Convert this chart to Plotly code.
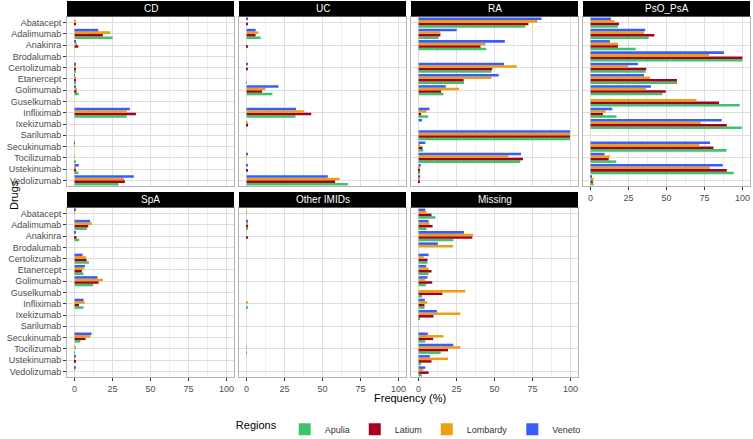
import plotly.graph_objects as go
from plotly.subplots import make_subplots

drugs = [
    "Abatacept", "Adalimumab", "Anakinra", "Brodalumab", "Certolizumab",
    "Etanercept", "Golimumab", "Guselkumab", "Infliximab", "Ixekizumab",
    "Sarilumab", "Secukinumab", "Tocilizumab", "Ustekinumab", "Vedolizumab",
]
regions = ["Apulia", "Latium", "Lombardy", "Veneto"]
colors = {"Apulia": "#3CC46D", "Latium": "#A6001F", "Lombardy": "#EE9F0E", "Veneto": "#3A5CFF"}
panels = ["CD", "UC", "RA", "PsO_PsA", "SpA", "Other IMIDs", "Missing"]

# frequency (%) per panel, per region, in drug order
cd = {
    "Apulia":   [0, 25.0, 0, 0, 0.7, 0.6, 2.8, 0, 34.4, 0, 0, 0, 0.8, 2.6, 29.0],
    "Latium":   [0.3, 18.6, 2.4, 0, 0.7, 0.3, 1.3, 0, 40.4, 0, 0, 0, 0, 1.0, 33.1],
    "Lombardy": [0.3, 23.5, 1.5, 0, 0.5, 0.3, 1.5, 0, 34.4, 0, 0, 0.2, 0.2, 1.0, 32.7],
    "Veneto":   [0, 15.6, 0.9, 0, 0.3, 0.2, 0.9, 0, 36.4, 0, 0, 0.2, 0, 2.8, 39.0],
}
uc = {
    "Apulia":   [0, 9.3, 0, 0, 0, 0.2, 17.0, 0, 32.2, 0, 0, 0, 0, 0, 66.7],
    "Latium":   [0.3, 5.9, 0.5, 0, 0.5, 0, 10.2, 0, 42.6, 0.8, 0, 0, 0, 0.5, 58.3],
    "Lombardy": [0, 7.8, 0, 0, 0, 0, 12.4, 0, 38.0, 0.3, 0, 0, 0.2, 0, 61.3],
    "Veneto":   [0.3, 6.0, 0, 0, 0.5, 0, 21.0, 0, 32.6, 0, 0, 0, 0.3, 0.5, 53.5],
}
ra = {
    "Apulia":   [70.3, 13.1, 44.5, 0, 48.0, 29.9, 16.4, 0, 6.3, 0, 99.7, 3.1, 67.0, 0.9, 0],
    "Latium":   [72.3, 14.4, 40.8, 0, 48.5, 29.7, 14.8, 0, 1.7, 0, 99.7, 2.6, 68.8, 0.5, 0.5],
    "Lombardy": [78.2, 14.4, 44.1, 0, 64.6, 48.0, 26.6, 0, 5.2, 0, 99.7, 1.1, 59.2, 0.3, 0.3],
    "Veneto":   [81.0, 25.1, 56.8, 0, 56.3, 52.8, 17.9, 0, 7.2, 2.2, 99.7, 4.4, 67.5, 1.5, 1.1],
}
pso_psa = {
    "Apulia":   [18.0, 38.2, 29.7, 100, 36.3, 56.9, 47.3, 98.2, 17.1, 99.6, 0, 89.5, 16.9, 94.3, 2.0],
    "Latium":   [18.7, 42.0, 18.0, 100, 36.7, 56.9, 49.5, 84.6, 8.1, 89.7, 0, 80.9, 11.9, 89.7, 1.5],
    "Lombardy": [15.8, 35.2, 18.0, 78.0, 24.6, 39.1, 36.5, 69.7, 9.9, 72.5, 0, 71.6, 12.7, 78.5, 2.0],
    "Veneto":   [13.4, 36.0, 12.7, 87.9, 31.2, 35.2, 39.8, 0, 14.3, 86.4, 0, 78.7, 9.2, 87.0, 0.9],
}
spa = {
    "Apulia":   [0, 8.1, 3.1, 0, 9.4, 5.9, 12.1, 0, 5.9, 0, 0, 3.7, 0.2, 0, 0],
    "Latium":   [0, 9.0, 1.3, 0, 7.9, 4.8, 15.8, 0, 2.9, 0, 0, 7.2, 0, 0.3, 0],
    "Lombardy": [0.2, 11.4, 0, 0, 7.5, 5.9, 18.6, 0, 6.6, 0, 0, 10.5, 0.3, 0.2, 0.2],
    "Veneto":   [0.9, 10.3, 0.4, 0, 5.3, 6.8, 15.1, 0, 5.9, 0, 0, 11.2, 0, 0.7, 0.9],
}
other_imids = {
    "Apulia":   [0, 0.8, 0, 0, 0, 0, 0, 0, 0.6, 0, 0, 0, 0.2, 0, 0],
    "Latium":   [0, 0.8, 0.8, 0, 0, 0, 0, 0, 0, 0, 0, 0, 0, 0, 0],
    "Lombardy": [0.2, 0.8, 0, 0, 0, 0, 0, 0, 0.3, 0, 0, 0, 0.2, 0, 0],
    "Veneto":   [0, 0.7, 0, 0, 0, 0, 0, 0, 0, 0, 0, 0, 0, 0, 0],
}
missing = {
    "Apulia":   [11.1, 5.2, 22.9, 0, 5.9, 6.6, 4.8, 2.4, 3.9, 0.9, 0, 4.4, 14.6, 1.7, 2.2],
    "Latium":   [8.5, 9.2, 35.4, 0, 5.9, 8.5, 9.0, 15.7, 3.9, 9.8, 0, 9.6, 19.4, 8.5, 6.6],
    "Lombardy": [5.2, 7.2, 36.0, 22.7, 3.3, 6.6, 4.4, 30.8, 5.7, 27.5, 0, 16.4, 27.5, 19.4, 3.1],
    "Veneto":   [4.4, 6.6, 29.9, 12.7, 6.6, 5.0, 5.9, 0, 4.1, 12.0, 0, 6.1, 22.9, 7.4, 4.4],
}
panel_data = [cd, uc, ra, pso_psa, spa, other_imids, missing]

fig = make_subplots(rows=2, cols=4, horizontal_spacing=5 / 683, vertical_spacing=22 / 360)

grid_major = "#dedede"
grid_minor = "#f0f0f0"
border = "#b3b3b3"
font_family = "Liberation Sans, Arial, sans-serif"
tick_font = dict(family=font_family, size=9, color="#4d4d4d")

for i, (name, data) in enumerate(zip(panels, panel_data)):
    row, col = i // 4 + 1, i % 4 + 1
    for reg in regions:
        fig.add_trace(
            go.Bar(
                x=data[reg], y=drugs, orientation="h", name=reg,
                marker=dict(color=colors[reg], line=dict(width=0)),
                legendgroup=reg, showlegend=(i == 0),
            ),
            row=row, col=col,
        )
    show_x = row == 2 or col == 4
    fig.update_xaxes(
        range=[-5, 105], tickvals=[0, 25, 50, 75, 100], showticklabels=show_x,
        ticks="outside" if show_x else "", ticklen=3, tickcolor="#333333",
        tickfont=tick_font, showgrid=True, gridcolor=grid_major, gridwidth=1,
        minor=dict(dtick=12.5, tick0=0, showgrid=True, gridcolor=grid_minor, gridwidth=0.5),
        zeroline=False, showline=True, linecolor=border, linewidth=1, mirror=True,
        automargin=False, row=row, col=col,
    )
    fig.update_yaxes(
        categoryorder="array", categoryarray=drugs[::-1], showticklabels=(col == 1),
        ticks="outside" if col == 1 else "", ticklen=3, tickcolor="#333333",
        tickfont=tick_font, showgrid=True, gridcolor=grid_major, gridwidth=1,
        zeroline=False, showline=True, linecolor=border, linewidth=1, mirror=True,
        automargin=False, row=row, col=col,
    )
    # black strip with the panel name
    xr = "x domain" if i == 0 else f"x{i + 1} domain"
    yr = "y domain" if i == 0 else f"y{i + 1} domain"
    fig.add_shape(type="rect", xref=xr, yref=yr, x0=0, x1=1, y0=1.003, y1=1 + 16 / 169,
                  fillcolor="black", line=dict(width=0), layer="above")
    fig.add_annotation(text=name, xref=xr, yref=yr, x=0.5, y=1 + 8.5 / 169,
                       showarrow=False, yanchor="middle",
                       font=dict(family=font_family, size=10, color="white"))

# empty 8th cell
fig.update_xaxes(visible=False, row=2, col=4)
fig.update_yaxes(visible=False, row=2, col=4)

fig.add_annotation(text="Drugs", xref="paper", yref="paper", x=-0.089, y=0.506,
                   textangle=-90, showarrow=False,
                   font=dict(family=font_family, size=11, color="black"))
fig.add_annotation(text="Frequency (%)", xref="paper", yref="paper", x=0.502, y=-0.057,
                   showarrow=False, yanchor="middle",
                   font=dict(family=font_family, size=11, color="black"))

fig.update_layout(
    width=753, height=439,
    margin=dict(l=67, r=3, t=17, b=62, autoexpand=False),
    barmode="group", bargap=0.1, bargroupgap=0,
    plot_bgcolor="white", paper_bgcolor="white",
    font=dict(family=font_family),
    legend=dict(
        orientation="h", x=0.502, xanchor="center", y=-0.145, yanchor="middle",
        title=dict(text="Regions", font=dict(size=11, color="black")),
        font=dict(size=9, color="#333333"), itemwidth=30,
    ),
)

# drop the default 8px page margin so the figure fills the window
fig.write_html("out.html", config={"displayModeBar": False},
               post_script="document.body.style.margin = '0';")
